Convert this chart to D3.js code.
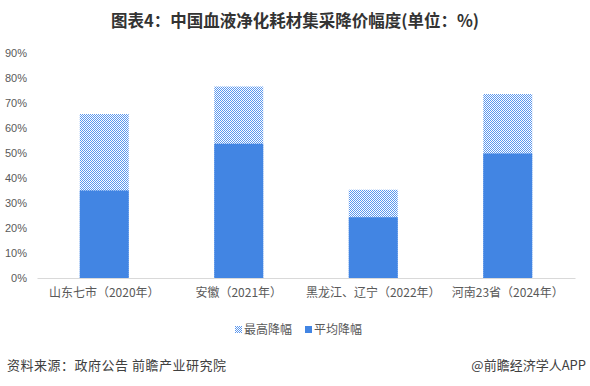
<!DOCTYPE html>
<html>
<head>
<meta charset="utf-8">
<script src="https://cdn.jsdelivr.net/npm/d3@7"></script>
<style>
  body { margin: 0; background: #fff; }
  text { font-family: "Noto Sans CJK SC", "Microsoft YaHei", sans-serif; }
</style>
</head>
<body>
<div id="chart"></div>
<script>
var categories = ["山东七市（2020年）", "安徽（2021年）", "黑龙江、辽宁（2022年）", "河南23省（2024年）"];
var maxDrop = [65.6, 76.6, 35.3, 73.6];
var avgDrop = [35, 53.7, 24.3, 49.8];
var yTicks = [0, 10, 20, 30, 40, 50, 60, 70, 80, 90];
var seriesNames = ["最高降幅", "平均降幅"];

var W = 590, H = 386;
var margin = {top: 53, right: 15, bottom: 108, left: 37};
var width = W - margin.left - margin.right,
    height = H - margin.top - margin.bottom;

var svg = d3.select("#chart").append("svg")
  .attr("width", W)
  .attr("height", H);

var defs = svg.append("defs");
var pat = defs.append("pattern")
  .attr("id", "checker")
  .attr("width", 2).attr("height", 2)
  .attr("patternUnits", "userSpaceOnUse");
pat.append("rect").attr("width", 2).attr("height", 2).attr("fill", "#fff");
pat.append("rect").attr("x", 0).attr("y", 0).attr("width", 1).attr("height", 1).attr("fill", "#5b97ee");
pat.append("rect").attr("x", 1).attr("y", 1).attr("width", 1).attr("height", 1).attr("fill", "#5b97ee");

// title
svg.append("text")
  .attr("x", 295).attr("y", 27)
  .attr("text-anchor", "middle")
  .attr("font-size", 16.5)
  .attr("font-weight", "bold")
  .attr("fill", "#333")
  .text("图表4：中国血液净化耗材集采降价幅度(单位：%)");

var g = svg.append("g")
  .attr("transform", "translate(" + margin.left + "," + margin.top + ")");

var x = d3.scaleBand().domain(categories).range([0, width]).paddingInner(0.636).paddingOuter(0.318);
var y = d3.scaleLinear().domain([0, 90]).range([height, 0]);

var data = categories.map(function(c, i) {
  return {cat: c, max: maxDrop[i], avg: avgDrop[i]};
});

// max drop (full bar, pattern)
g.selectAll(".bar-max")
  .data(data)
  .enter().append("rect")
  .attr("class", "bar-max")
  .attr("x", function(d) { return x(d.cat); })
  .attr("width", x.bandwidth())
  .attr("y", function(d) { return y(d.max); })
  .attr("height", function(d) { return height - y(d.max); })
  .attr("fill", "url(#checker)");

// avg drop
g.selectAll(".bar-avg")
  .data(data)
  .enter().append("rect")
  .attr("class", "bar-avg")
  .attr("x", function(d) { return x(d.cat); })
  .attr("width", x.bandwidth())
  .attr("y", function(d) { return y(d.avg); })
  .attr("height", function(d) { return height - y(d.avg); })
  .attr("fill", "#4285e3");

// y axis
var yAxis = g.append("g")
  .call(d3.axisLeft(y).tickValues(yTicks).tickSize(0).tickPadding(10)
    .tickFormat(function(d) { return d + "%"; }));
yAxis.select(".domain").remove();
yAxis.selectAll("text")
  .attr("font-size", 11)
  .attr("fill", "#595959")
  .style("font-family", "'Liberation Sans', Arial, sans-serif");

// x axis
var xAxis = g.append("g")
  .attr("transform", "translate(0," + height + ")")
  .call(d3.axisBottom(x).tickSize(0).tickPadding(10));
xAxis.select(".domain").attr("stroke", "#d9d9d9");
xAxis.selectAll("text")
  .attr("font-size", 12)
  .attr("fill", "#595959");

// legend
var legend = svg.append("g").attr("transform", "translate(0,329)");
var lx = [235, 305];
legend.selectAll("rect")
  .data(seriesNames)
  .enter().append("rect")
  .attr("x", function(d, i) { return lx[i]; })
  .attr("y", -3)
  .attr("width", 7).attr("height", 7)
  .attr("fill", function(d, i) { return i === 0 ? "url(#checker)" : "#4285e3"; });
legend.selectAll("text")
  .data(seriesNames)
  .enter().append("text")
  .attr("x", function(d, i) { return lx[i] + 9; })
  .attr("y", 5)
  .attr("font-size", 12)
  .attr("fill", "#595959")
  .text(function(d) { return d; });

// footer
svg.append("text")
  .attr("x", 7).attr("y", 370)
  .attr("font-size", 13)
  .attr("letter-spacing", 0.5)
  .attr("fill", "#404040")
  .text("资料来源：政府公告 前瞻产业研究院");
svg.append("text")
  .attr("x", 586).attr("y", 370)
  .attr("text-anchor", "end")
  .attr("font-size", 13)
  .attr("fill", "#404040")
  .text("@前瞻经济学人APP");
</script>
</body>
</html>
